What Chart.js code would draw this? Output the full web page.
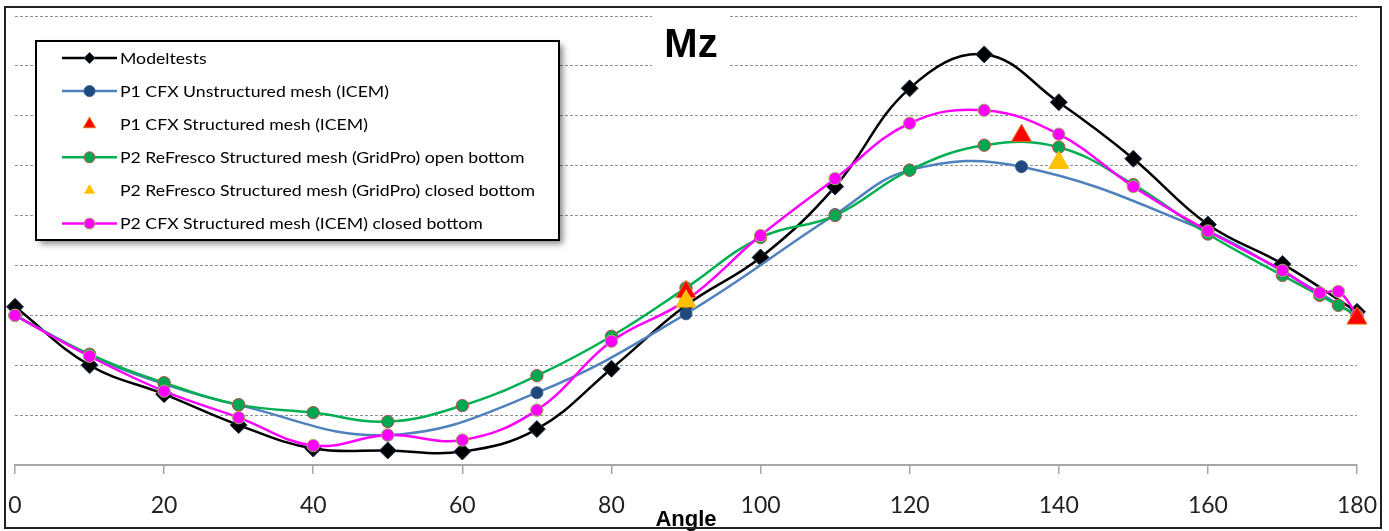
<!DOCTYPE html>
<html>
<head>
<meta charset="utf-8">
<script src="https://cdn.jsdelivr.net/npm/chart.js@4.4.1/dist/chart.umd.min.js"></script>
<style>
  html, body { margin: 0; padding: 0; background: #fff; }
</style>
</head>
<body>
<canvas id="mzChart" width="1389" height="531"></canvas>
<script>
// ---- data (y in grid units, 0 = x axis) ----
const angleTicks = [0, 20, 40, 60, 80, 100, 120, 140, 160, 180];

const seriesNames = [
  'Modeltests',
  'P1 CFX Unstructured mesh (ICEM)',
  'P1 CFX Structured mesh (ICEM)',
  'P2 ReFresco Structured mesh (GridPro) open bottom',
  'P2 ReFresco Structured mesh (GridPro) closed bottom',
  'P2 CFX Structured mesh (ICEM) closed bottom'
];

const modelAngles = [0, 10, 20, 30, 40, 50, 60, 70, 80, 90, 100, 110, 120, 130, 140, 150, 160, 170, 180];
const modelMz     = [3.17, 2.0, 1.42, 0.8, 0.33, 0.29, 0.27, 0.72, 1.93, 3.2, 4.16, 5.58, 7.55, 8.23, 7.27, 6.14, 4.82, 4.03, 3.07];

const p1UnstrAngles = [0, 10, 20, 30, 50, 70, 90, 110, 120, 135, 160, 170, 180];
const p1UnstrMz     = [3.0, 2.2, 1.62, 1.2, 0.6, 1.45, 3.03, 5.02, 5.91, 5.98, 4.68, 3.88, 3.0];

const p1StrAngles = [90, 135, 180];
const p1StrMz     = [3.47, 6.6, 2.94];

const p2OpenAngles = [0, 10, 20, 30, 40, 50, 60, 70, 80, 90, 100, 110, 120, 130, 140, 150, 160, 170, 175, 177.5, 180];
const p2OpenMz     = [3.0, 2.22, 1.65, 1.21, 1.05, 0.87, 1.19, 1.79, 2.58, 3.55, 4.56, 5.0, 5.91, 6.41, 6.37, 5.62, 4.63, 3.8, 3.4, 3.2, 3.0];

const p2ClosedAngles = [90, 140];
const p2ClosedMz     = [3.28, 6.06];

const p2CfxAngles = [0, 10, 20, 30, 40, 50, 60, 70, 80, 90, 100, 110, 120, 130, 140, 150, 160, 170, 175, 177.5, 180];
const p2CfxMz     = [3.0, 2.18, 1.48, 0.95, 0.39, 0.6, 0.5, 1.1, 2.48, 3.3, 4.6, 5.74, 6.85, 7.11, 6.63, 5.58, 4.69, 3.9, 3.45, 3.48, 3.0];

function pts(a, v) { return a.map((x, i) => ({ x: x, y: v[i] })); }

// line series
function lineSet(label, data, color, style, r, fill, edge, order) {
  return {
    label: label, data: data, order: order, clip: false,
    borderColor: color, borderWidth: 2.5, tension: 0.4,
    pointStyle: style, pointRadius: r,
    pointBackgroundColor: fill, pointBorderColor: edge, pointBorderWidth: 1
  };
}
// markers only
function markSet(label, data, fill, edge, order) {
  return {
    label: label, data: data, order: order, clip: false, showLine: false,
    pointStyle: 'triangle', pointRadius: 11.5,
    pointBackgroundColor: fill, pointBorderColor: edge, pointBorderWidth: 1,
    borderColor: fill, backgroundColor: fill
  };
}

const datasets = [
  lineSet(seriesNames[0], pts(modelAngles, modelMz), '#000000', 'rectRot', 8.5, '#000000', '#1f3a60', 6),
  lineSet(seriesNames[1], pts(p1UnstrAngles, p1UnstrMz), '#4f81bd', 'circle', 6, '#1f497d', '#3a5f8f', 5),
  markSet(seriesNames[2], pts(p1StrAngles, p1StrMz), '#ff0000', '#e46c0a', 2),
  lineSet(seriesNames[3], pts(p2OpenAngles, p2OpenMz), '#00b050', 'circle', 6.2, '#00a651', '#c0504d', 4),
  markSet(seriesNames[4], pts(p2ClosedAngles, p2ClosedMz), '#ffc000', '#ffc000', 1),
  lineSet(seriesNames[5], pts(p2CfxAngles, p2CfxMz), '#ff00ff', 'circle', 6.2, '#ff00ff', '#9bbb59', 3)
];

// small marker painter for the legend box
function marker(ctx, style, x, y, r, fill, edge) {
  ctx.beginPath();
  if (style === 'circle') {
    ctx.arc(x, y, r, 0, Math.PI * 2);
  } else if (style === 'rectRot') {
    ctx.moveTo(x, y - r); ctx.lineTo(x + r, y); ctx.lineTo(x, y + r); ctx.lineTo(x - r, y);
    ctx.closePath();
  } else {
    ctx.moveTo(x, y - r); ctx.lineTo(x + r * 0.866, y + r / 2); ctx.lineTo(x - r * 0.866, y + r / 2);
    ctx.closePath();
  }
  ctx.fillStyle = fill; ctx.fill();
  ctx.lineWidth = 1; ctx.strokeStyle = edge; ctx.stroke();
}

const legendRows = [
  { line: '#000000', style: 'rectRot', r: 5.5, fill: '#000000', edge: '#1f3a60' },
  { line: '#4f81bd', style: 'circle', r: 5.5, fill: '#1f497d', edge: '#3a5f8f' },
  { line: null, style: 'triangle', r: 7, fill: '#ff0000', edge: '#e46c0a' },
  { line: '#00b050', style: 'circle', r: 5.5, fill: '#00a651', edge: '#c0504d' },
  { line: null, style: 'triangle', r: 5.5, fill: '#ffc000', edge: '#ffc000' },
  { line: '#ff00ff', style: 'circle', r: 5.5, fill: '#ff00ff', edge: '#9bbb59' }
];

const decor = {
  id: 'decor',
  beforeDraw(chart) {
    const ctx = chart.ctx;
    ctx.save();
    ctx.fillStyle = '#fff';
    ctx.fillRect(0, 0, chart.width, chart.height);
    ctx.restore();
  },
  afterDraw(chart) {
    const ctx = chart.ctx;
    ctx.save();

    // title with its white box over the grid
    ctx.fillStyle = '#fff';
    ctx.fillRect(652, 9, 78, 62);
    ctx.fillStyle = '#000';
    ctx.font = 'bold 40px "Liberation Sans"';
    ctx.textAlign = 'center';
    ctx.textBaseline = 'alphabetic';
    ctx.fillText('Mz', 691, 57);

    // legend box
    ctx.shadowColor = 'rgba(0,0,0,0.45)';
    ctx.shadowBlur = 6;
    ctx.shadowOffsetX = 4;
    ctx.shadowOffsetY = 4;
    ctx.fillStyle = '#fff';
    ctx.fillRect(36, 41, 523, 199);
    ctx.shadowColor = 'transparent';
    ctx.lineWidth = 2;
    ctx.strokeStyle = '#000';
    ctx.strokeRect(36, 41, 523, 199);

    ctx.font = '15px Lato';
    let widest = 0;
    seriesNames.forEach(n => { widest = Math.max(widest, ctx.measureText(n).width); });
    const sx = 415 / widest;
    legendRows.forEach((row, i) => {
      const y = 58 + i * 33.1;
      if (row.line) {
        ctx.beginPath();
        ctx.moveTo(62, y); ctx.lineTo(117, y);
        ctx.lineWidth = 2.5; ctx.strokeStyle = row.line; ctx.stroke();
      }
      marker(ctx, row.style, 89.5, y, row.r, row.fill, row.edge);
      ctx.save();
      ctx.translate(120, y);
      ctx.scale(sx, 1);
      ctx.fillStyle = '#000';
      ctx.textAlign = 'left';
      ctx.textBaseline = 'middle';
      ctx.fillText(seriesNames[i], 0, 1);
      ctx.restore();
    });

    // axis title
    ctx.fillStyle = '#000';
    ctx.font = 'bold 22px "Liberation Sans"';
    ctx.textAlign = 'center';
    ctx.textBaseline = 'alphabetic';
    ctx.fillText('Angle', 686, 526);

    // outer frame
    ctx.lineWidth = 2;
    ctx.strokeStyle = '#222';
    ctx.strokeRect(5, 7, 1376, 521);
    ctx.restore();
  }
};

new Chart(document.getElementById('mzChart'), {
  type: 'line',
  data: { datasets: datasets },
  options: {
    responsive: false,
    animation: false,
    events: [],
    layout: { autoPadding: false, padding: { left: 15, right: 32, top: 16, bottom: 0 } },
    plugins: { legend: { display: false }, tooltip: { enabled: false } },
    scales: {
      x: {
        type: 'linear', min: 0, max: 180,
        afterBuildTicks: s => { s.ticks = angleTicks.map(v => ({ value: v })); },
        afterFit: s => { s.height = 66; s.paddingLeft = 0; s.paddingRight = 0; },
        grid: { drawOnChartArea: false, drawTicks: true, tickLength: 9, color: '#a6a6a6', lineWidth: 1.5 },
        border: { display: true, color: '#a6a6a6', width: 2 },
        ticks: { padding: 18, color: '#222', font: { family: 'Lato', size: 23 } }
      },
      y: {
        type: 'linear', min: 0, max: 9,
        afterFit: s => { s.width = 0; },
        ticks: { display: false, stepSize: 1 },
        grid: { drawTicks: false, color: c => (c.tick && c.tick.value === 0 ? 'rgba(0,0,0,0)' : '#8f8f8f'), lineWidth: 1 },
        border: { display: false, dash: [3, 2] }
      }
    }
  },
  plugins: [decor]
});
</script>
</body>
</html>
